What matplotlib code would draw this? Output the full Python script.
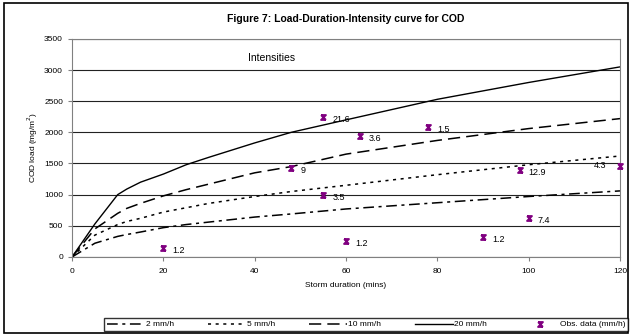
import numpy as np
import matplotlib.pyplot as plt
from matplotlib.path import Path
from matplotlib.patches import Rectangle

plt.rcParams['font.family'] = ['Liberation Sans', 'DejaVu Sans']

# model curves (storm duration in mins, COD load in mg/m2)
t_curve = [0, 5, 10, 12, 15, 20, 25, 30, 40, 48, 60, 80, 100, 120]
load_2 = [0, 220, 330, 360, 400, 470, 520, 560, 640, 690, 770, 870, 970, 1060]
load_5 = [0, 350, 520, 570, 620, 720, 790, 860, 970, 1050, 1150, 1320, 1480, 1620]
load_10 = [0, 450, 700, 780, 860, 980, 1080, 1170, 1350, 1450, 1650, 1870, 2060, 2220]
load_20 = [0, 530, 1000, 1090, 1200, 1330, 1480, 1600, 1830, 2000, 2200, 2530, 2800, 3050]

# observed data
obs_t = [20, 48, 55, 55, 60, 63, 78, 90, 98, 100, 120]
obs_load = [150, 1430, 1000, 2240, 250, 1940, 2090, 320, 1400, 630, 1460]
obs_lab = ['1.2', '9', '3.5', '21.6', '1.2', '3.6', '1.5', '1.2', '12.9', '7.4', '4.3']

# x with bars top and bottom, like the spreadsheet marker
marker = Path([(-1, 1), (1, 1), (-1, -1), (1, -1), (-1, 1), (1, -1)],
              [Path.MOVETO, Path.LINETO, Path.LINETO, Path.LINETO,
               Path.MOVETO, Path.LINETO])

fig = plt.figure(figsize=(6.32, 3.35), dpi=100)
ax = fig.add_axes([0.114, 0.233, 0.867, 0.651])

ax.plot(t_curve, load_2, color='black', lw=1.1, dashes=(7, 3, 2, 3), label='2 mm/h')
ax.plot(t_curve, load_5, color='black', lw=1.1, dashes=(2, 3), label='5 mm/h')
ax.plot(t_curve, load_10, color='black', lw=1.1, dashes=(8, 4), label='10 mm/h')
ax.plot(t_curve, load_20, color='black', lw=1.0, label='20 mm/h')
ax.plot(obs_t, obs_load, ls='none', marker=marker, ms=3.5, mew=1.4, mfc='none',
        color='#800080', label='Obs. data (mm/h)', clip_on=False, zorder=5)

for x, y, s in zip(obs_t, obs_load, obs_lab):
    if x == 120:
        ax.text(x - 3, y, s, fontsize=6.5, ha='right', va='center')
    else:
        ax.text(x + 2, y - 40, s, fontsize=6.5, ha='left', va='center')

ax.text(38.5, 3200, 'Intensities', fontsize=7.5, ha='left', va='center')

ax.set_xlim(0, 120)
ax.set_ylim(0, 3500)
ax.set_xticks(np.arange(0, 121, 20))
ax.set_yticks(np.arange(0, 3501, 500))
ax.yaxis.grid(True, color='#222222', lw=0.8)
ax.set_axisbelow(True)
ax.tick_params(labelsize=6, length=3, width=0.8, color='gray')
ax.tick_params(axis='x', pad=5)
for sp in ax.spines.values():
    sp.set_color('gray')
ax.set_xlabel('Storm duration (mins)', fontsize=6, labelpad=5)
ax.set_ylabel('COD load (mg/m$^2$)', fontsize=6, labelpad=3)
ax.set_title('Figure 7: Load-Duration-Intensity curve for COD', fontsize=7.5, fontweight='bold', pad=12)

fig.legend(loc='lower left', bbox_to_anchor=(0.165, 0.012, 0.829, 0.054), mode='expand',
           ncol=5, fontsize=6, frameon=True, fancybox=False, edgecolor='black',
           handlelength=4.5, borderpad=0.3, borderaxespad=0, handletextpad=0.2)

fig.patches.append(Rectangle((0.006, 0.006), 0.988, 0.985, transform=fig.transFigure,
                             fill=False, edgecolor='black', lw=1.2))

fig.savefig('out.png', dpi=100)
